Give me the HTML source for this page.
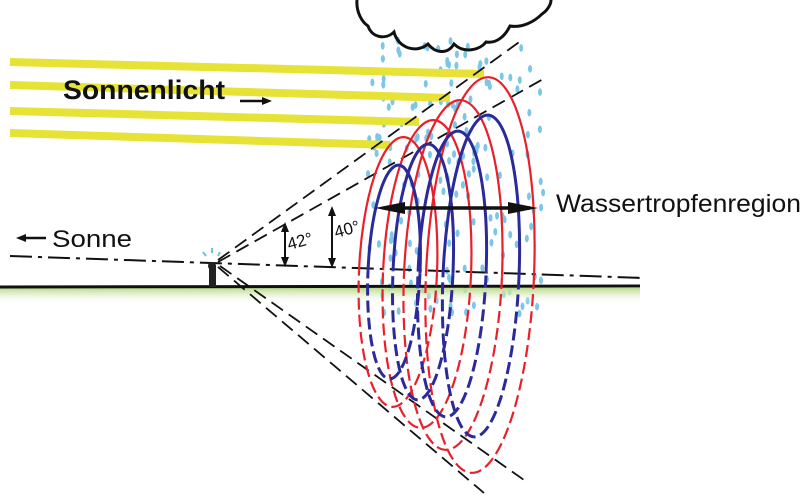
<!DOCTYPE html>
<html><head><meta charset="utf-8"><style>
html,body{margin:0;padding:0;background:#fff;width:811px;height:495px;overflow:hidden}
svg{display:block}
text{font-family:"Liberation Sans",sans-serif;fill:#111}
</style></head><body>
<svg id="s" width="811" height="495" viewBox="0 0 811 495" xmlns="http://www.w3.org/2000/svg">
<defs>
<linearGradient id="g" x1="0" y1="0" x2="0" y2="1"><stop offset="0" stop-color="#b9d98a"/><stop offset="1" stop-color="#fff" stop-opacity="0"/></linearGradient>
<clipPath id="up"><rect x="0" y="0" width="811" height="272"/></clipPath>
<clipPath id="dn"><rect x="0" y="272" width="811" height="240"/></clipPath>
</defs>
<g id="rain"></g>
<!-- cloud -->
<path d="M357 0 C356 12 362 22 368 26 C372 38 386 40 394 32 C398 48 416 54 428 44 C436 54 448 54 454 44 C464 54 480 50 486 42 C498 44 506 34 510 26 C522 28 534 22 542 14 C548 10 551 4 551 0" fill="none" stroke="#111" stroke-width="3"/>
<!-- sunlight -->
<g stroke="#e6e236" stroke-width="8" stroke-linecap="butt">
<line x1="10" y1="62" x2="484" y2="74"/>
<line x1="10" y1="85" x2="450" y2="98"/>
<line x1="10" y1="111" x2="419" y2="122"/>
<line x1="10" y1="133" x2="390" y2="145"/>
</g>
<text x="63" y="99" font-size="27" font-weight="bold" textLength="162" lengthAdjust="spacingAndGlyphs">Sonnenlicht</text>
<line x1="240" y1="101" x2="262" y2="101" stroke="#111" stroke-width="2.5"/><path d="M262 97 L272 101 L262 105Z" fill="#111"/>
<!-- Sonne -->
<path d="M16 238 L26 234 L26 242Z" fill="#111"/><line x1="24" y1="238" x2="46" y2="238" stroke="#111" stroke-width="2.5"/>
<text x="52" y="247" font-size="24" textLength="80" lengthAdjust="spacingAndGlyphs">Sonne</text>
<text x="556" y="212" font-size="25" textLength="245" lengthAdjust="spacingAndGlyphs">Wassertropfenregion</text>
<!-- ground -->
<rect x="0" y="288" width="640" height="16" fill="url(#g)"/>
<line x1="0" y1="287" x2="640" y2="286" stroke="#111" stroke-width="3"/>
<!-- dash-dot horizon -->
<line x1="10" y1="256" x2="644" y2="278" stroke="#111" stroke-width="2" stroke-dasharray="22 6 4 6"/>
<!-- cone lines -->
<g stroke="#111" stroke-width="1.8" stroke-dasharray="14 7" fill="none">
<line x1="218" y1="260" x2="522" y2="40"/>
<line x1="218" y1="262" x2="545" y2="78"/>
<line x1="218" y1="267" x2="484" y2="493"/>
<line x1="220" y1="266" x2="524" y2="480"/>
</g>
<!-- observer -->
<rect x="209" y="265" width="7" height="22" fill="#222"/><circle cx="212" cy="266" r="4" fill="#222"/>
<g stroke="#6ec1e4" stroke-width="2"><line x1="203" y1="252" x2="206" y2="256"/><line x1="212" y1="248" x2="212" y2="253"/><line x1="220" y1="252" x2="218" y2="256"/></g>
<!-- ellipses -->
<g id="ell" fill="none" stroke-width="2.2"></g>
<!-- double arrow -->
<line x1="385" y1="208" x2="530" y2="208" stroke="#111" stroke-width="3.5"/>
<path d="M375 208 L405 202 L405 214Z" fill="#111"/><path d="M538 208 L508 202 L508 214Z" fill="#111"/>
<!-- angle arrows -->
<g stroke="#111" stroke-width="2"><line x1="285" y1="228" x2="285" y2="262"/><line x1="332" y1="212" x2="332" y2="263"/></g>
<path d="M285 222 L281 232 L289 232Z M285 267 L281 257 L289 257Z M332 206 L328 216 L336 216Z M332 268 L328 258 L336 258Z" fill="#111"/>
<text x="289" y="250" font-size="17" transform="rotate(-15 289 250)">42°</text>
<text x="336" y="238" font-size="17" transform="rotate(-15 336 238)">40°</text>
</svg>
<script>
var ns="http://www.w3.org/2000/svg",s=document.getElementById("rain"),seed=7;
function r(){seed=(seed*9301+49297)%233280;return seed/233280;}
for(var i=0;i<170;i++){var x=368+r()*180,y=40+r()*275;
 var e=document.createElementNS(ns,"ellipse");e.setAttribute("cx",x);e.setAttribute("cy",y);
 e.setAttribute("rx",2);e.setAttribute("ry",3.8);e.setAttribute("fill","#7cc6e8");s.appendChild(e);}
var g=document.getElementById("ell");
var data=[["#e8202a",398,272,39,135],["#e8202a",427,274,44,154],["#e8202a",453,275,49,175],["#e8202a",480,275,54,198],
["#2a2a9a",394,272,26,107],["#2a2a9a",423,272,30,128],["#2a2a9a",452,274,34,143],["#2a2a9a",481,276,38,161]];
data.forEach(function(d){["up","dn"].forEach(function(c){var e=document.createElementNS(ns,"ellipse");
 e.setAttribute("cx",d[1]);e.setAttribute("cy",d[2]);e.setAttribute("rx",d[3]);e.setAttribute("ry",d[4]);
 e.setAttribute("stroke",d[0]);e.setAttribute("clip-path","url(#"+c+")");
 e.setAttribute("transform","rotate(2.5 "+d[1]+" "+d[2]+")");
 if(c=="dn")e.setAttribute("stroke-dasharray","12 5");
 if(d[0]!="#e8202a")e.setAttribute("stroke-width","3");
 g.appendChild(e);});});
</script>
</body></html>
